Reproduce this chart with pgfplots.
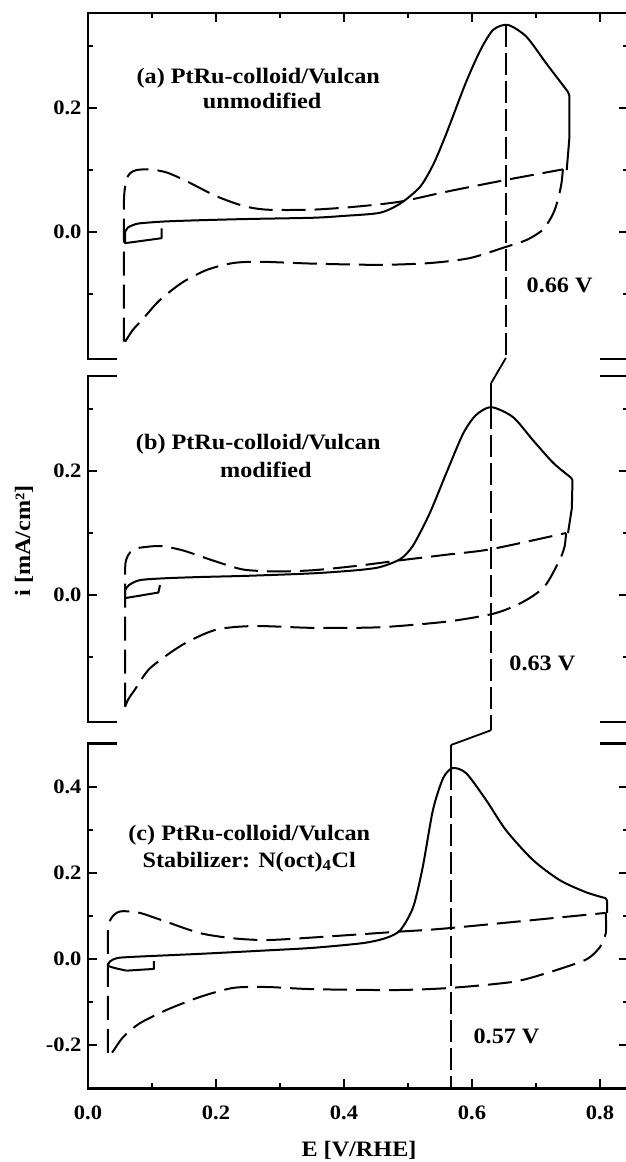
\documentclass[border=0pt]{standalone}
\usepackage{fontspec}
\setmainfont{Liberation Serif}[FakeStretch=1.1]
\usepackage{pgfplots}
\pgfplotsset{compat=1.18}
\pgfplotsset{
  cv/.style={
    scale only axis, width=539.84pt,
    xmin=0, xmax=0.8435,
    clip=false,
    axis line style={draw=none},
    tick align=inside,
    major tick length=9pt, minor tick length=5pt,
    every tick/.style={black, line width=2pt},
    ytick pos=both,
    xtick={0,0.2,0.4,0.6,0.8}, minor xtick={0.1,0.3,0.5,0.7},
    yticklabel style={font=\bfseries\fontsize{20.5}{24}\selectfont, xshift=-3pt},
    xticklabel style={font=\bfseries\fontsize{20.5}{24}\selectfont, yshift=-14pt},
    /pgf/number format/fixed, /pgf/number format/fixed zerofill,
    /pgf/number format/precision=1, /pgf/number format/assume math mode=true,
  },
  solidcv/.style={black, line width=2pt, smooth, tension=0.45, mark=none},
  sharpcv/.style={black, line width=2pt, mark=none, line join=round},
  dashcv/.style={black, line width=2pt, smooth, tension=0.45, mark=none, dash pattern=on 24pt off 9pt},
  vline/.style={black, line width=1.8pt, mark=none, dash pattern=on 22pt off 6pt},
  vsolid/.style={black, line width=1.8pt, mark=none},
}
\tikzset{
  lab/.style={font=\bfseries\fontsize{22}{26}\selectfont, anchor=base},
  ann/.style={font=\bfseries\fontsize{22}{26}\selectfont, anchor=base west},
}
\begin{document}
\begin{tikzpicture}[x=1pt,y=1pt]
\useasboundingbox (0,-1162) rectangle (626,0);

% ---------------- panel (a)
\begin{axis}[cv, at={(88pt,-359.1pt)}, anchor=south west, height=345.96pt,
  ymin=-0.205, ymax=0.353,
  ytick={0,0.2}, minor ytick={-0.1,0.1,0.3},
  xtick pos=right, xticklabels={}]
\addplot[sharpcv] coordinates {(0.115,0.006) (0.115,-0.010) (0.058,-0.018) (0.058,0.000)};
\addplot[solidcv] coordinates {(0.058,0.000) (0.062,0.007) (0.070,0.011) (0.081,0.014) (0.120,0.017) (0.175,0.019) (0.250,0.021) (0.352,0.023) (0.400,0.026) (0.456,0.031) (0.488,0.046) (0.519,0.073) (0.540,0.110) (0.560,0.159) (0.590,0.240) (0.613,0.293) (0.633,0.326) (0.656,0.334) (0.685,0.315) (0.716,0.272) (0.750,0.226)};
\addplot[sharpcv] coordinates {(0.750,0.226) (0.752,0.220) (0.752,0.150) (0.748,0.100)};
\addplot[dashcv] coordinates {(0.056,-0.177) (0.056,-0.05) (0.056,0.040) (0.057,0.065) (0.060,0.085) (0.066,0.095) (0.076,0.100) (0.097,0.101) (0.123,0.096) (0.154,0.082) (0.200,0.058) (0.243,0.042) (0.280,0.036) (0.350,0.036) (0.420,0.041) (0.488,0.049) (0.560,0.065) (0.653,0.084) (0.742,0.101)};
\addplot[dashcv] coordinates {(0.742,0.101) (0.740,0.080) (0.735,0.055) (0.727,0.030) (0.711,0.004) (0.685,-0.013) (0.653,-0.024) (0.597,-0.042) (0.535,-0.050) (0.456,-0.053) (0.352,-0.051) (0.269,-0.048) (0.227,-0.050) (0.186,-0.061) (0.148,-0.081) (0.112,-0.110) (0.086,-0.140) (0.070,-0.158) (0.058,-0.177)};
\addplot[vline] coordinates {(0.653,0.334) (0.653,-0.203)};
\addplot[vsolid] coordinates {(0.653,-0.203) (0.630,-0.2435)};
\draw[line width=2.5pt] (rel axis cs:0.0534,0) -- (rel axis cs:0,0) -- (rel axis cs:0,1) -- (rel axis cs:1,1) -- (rel axis cs:1,0) -- (rel axis cs:0.9484,0);
\node[lab] at (axis cs:0.266,0.240) {(a) PtRu-colloid/Vulcan};
\node[lab] at (axis cs:0.272,0.200) {unmodified};
\node[ann] at (axis cs:0.680,-0.098) {0.66 V};
\end{axis}

% ---------------- panel (b)
\begin{axis}[cv, at={(88pt,-722.1pt)}, anchor=south west, height=345.96pt,
  ymin=-0.205, ymax=0.353,
  ytick={0,0.2}, minor ytick={-0.1,0.1,0.3},
  xtick=\empty, minor xtick={}]
\addplot[sharpcv] coordinates {(0.1125,0.016) (0.110,0.004) (0.058,-0.005) (0.058,0.008)};
\addplot[solidcv] coordinates {(0.058,0.008) (0.064,0.016) (0.081,0.024) (0.120,0.027) (0.175,0.029) (0.250,0.031) (0.352,0.035) (0.420,0.040) (0.456,0.045) (0.488,0.058) (0.508,0.080) (0.534,0.132) (0.560,0.197) (0.586,0.260) (0.606,0.290) (0.630,0.303) (0.664,0.287) (0.695,0.250) (0.727,0.213) (0.755,0.189)};
\addplot[sharpcv] coordinates {(0.755,0.189) (0.757,0.185) (0.756,0.140) (0.750,0.100)};
\addplot[dashcv] coordinates {(0.058,-0.180) (0.058,-0.05) (0.058,0.040) (0.060,0.058) (0.066,0.069) (0.076,0.075) (0.086,0.077) (0.113,0.079) (0.148,0.072) (0.200,0.054) (0.243,0.041) (0.295,0.038) (0.352,0.040) (0.420,0.047) (0.488,0.056) (0.560,0.065) (0.630,0.074) (0.747,0.100)};
\addplot[dashcv] coordinates {(0.747,0.100) (0.745,0.080) (0.739,0.061) (0.723,0.029) (0.711,0.011) (0.690,-0.005) (0.664,-0.019) (0.630,-0.031) (0.560,-0.043) (0.456,-0.052) (0.352,-0.053) (0.260,-0.050) (0.200,-0.056) (0.148,-0.080) (0.097,-0.118) (0.073,-0.153) (0.063,-0.168) (0.058,-0.180)};
\addplot[vsolid] coordinates {(0.630,0.342) (0.630,0.303)};
\addplot[vline] coordinates {(0.630,0.303) (0.630,-0.218)};
\addplot[vsolid] coordinates {(0.630,-0.218) (0.567,-0.242)};
\draw[line width=2.5pt] (rel axis cs:0.0534,0) -- (rel axis cs:0,0) -- (rel axis cs:0,1) -- (rel axis cs:0.0534,1);
\draw[line width=2.5pt] (rel axis cs:0.9484,0) -- (rel axis cs:1,0) -- (rel axis cs:1,1) -- (rel axis cs:0.9484,1);
\node[lab] at (axis cs:0.266,0.234) {(b) PtRu-colloid/Vulcan};
\node[lab] at (axis cs:0.278,0.190) {modified};
\node[ann] at (axis cs:0.653,-0.121) {0.63 V};
\end{axis}

% ---------------- panel (c)
\begin{axis}[cv, at={(88pt,-1088.3pt)}, anchor=south west, height=344.8pt,
  ymin=-0.3, ymax=0.5,
  ytick={-0.2,0,0.2,0.4}, minor ytick={-0.1,0.1,0.3},
  xtick pos=left]
\addplot[sharpcv] coordinates {(0.103,-0.005) (0.103,-0.023) (0.060,-0.027)};
\addplot[solidcv] coordinates {(0.060,-0.027) (0.042,-0.021) (0.031,-0.016)};
\addplot[solidcv] coordinates {(0.031,-0.016) (0.034,-0.006) (0.045,0.002) (0.070,0.005) (0.175,0.012) (0.280,0.020) (0.352,0.026) (0.430,0.037) (0.466,0.049) (0.488,0.067) (0.508,0.120) (0.523,0.213) (0.539,0.346) (0.555,0.420) (0.570,0.443) (0.591,0.431) (0.622,0.369) (0.653,0.299) (0.695,0.230) (0.737,0.183) (0.778,0.155) (0.809,0.141)};
\addplot[sharpcv] coordinates {(0.809,0.141) (0.811,0.135) (0.811,0.107)};
\addplot[dashcv] coordinates {(0.031,-0.218) (0.031,-0.05) (0.031,0.060) (0.033,0.085) (0.039,0.100) (0.046,0.108) (0.055,0.111) (0.081,0.107) (0.123,0.086) (0.175,0.060) (0.227,0.048) (0.280,0.044) (0.352,0.050) (0.481,0.063) (0.567,0.072) (0.809,0.107)};
\addplot[dashcv] coordinates {(0.809,0.107) (0.809,0.060) (0.800,0.028) (0.785,0.005) (0.769,-0.007) (0.716,-0.033) (0.664,-0.053) (0.567,-0.067) (0.481,-0.072) (0.352,-0.070) (0.280,-0.065) (0.227,-0.067) (0.175,-0.088) (0.123,-0.118) (0.081,-0.149) (0.055,-0.181) (0.037,-0.218) (0.031,-0.218)};
\addplot[vsolid] coordinates {(0.567,0.4965) (0.567,0.443)};
\addplot[vline] coordinates {(0.567,0.443) (0.567,-0.3)};
\draw[line width=2.5pt] (rel axis cs:0.0534,1) -- (rel axis cs:0,1) -- (rel axis cs:0,0) -- (rel axis cs:1,0) -- (rel axis cs:1,1) -- (rel axis cs:0.9484,1);
\node[lab] at (axis cs:0.252,0.276) {(c) PtRu-colloid/Vulcan};
\node[lab] at (axis cs:0.252,0.213) {Stabilizer: N(oct)\textsubscript{4}Cl};
\node[ann] at (axis cs:0.597,-0.195) {0.57 V};
\end{axis}

\node[font=\bfseries\fontsize{22}{26}\selectfont, rotate=90] at (24,-541) {i [mA/cm²]};
\node[font=\bfseries\fontsize{22}{26}\selectfont, anchor=base] at (359,-1156) {E [V/RHE]};
\end{tikzpicture}
\end{document}
